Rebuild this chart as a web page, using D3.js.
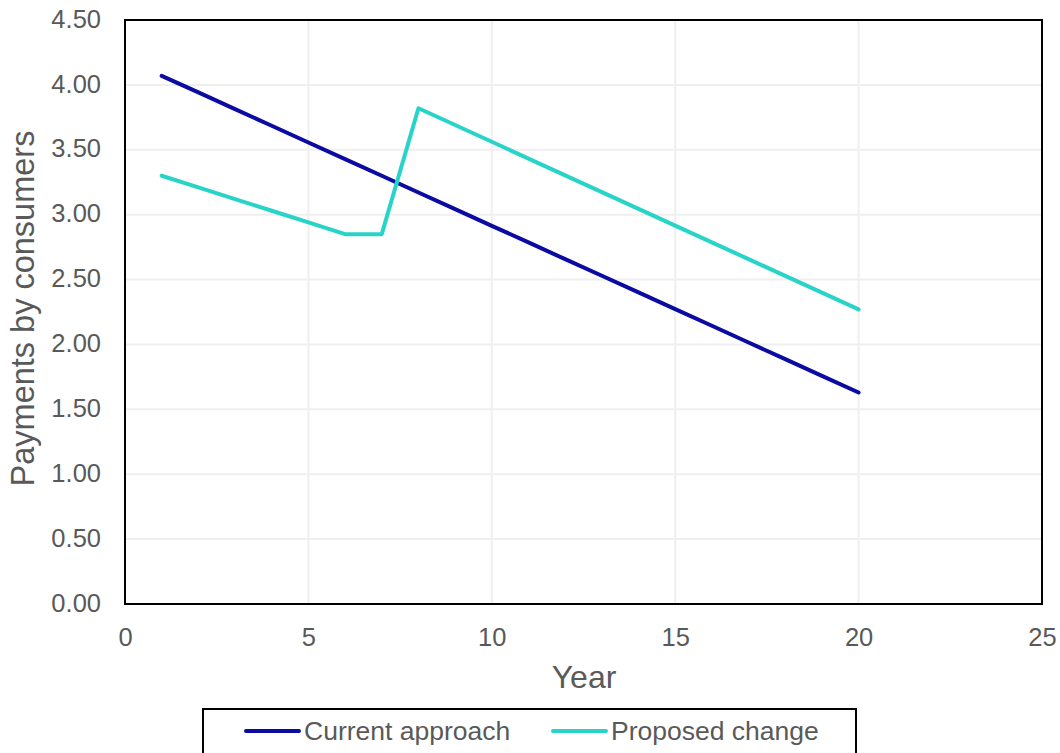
<!DOCTYPE html>
<html>
<head>
<meta charset="utf-8">
<script src="https://cdn.jsdelivr.net/npm/d3@7"></script>
<style>
  html, body { margin: 0; padding: 0; background: #fff; }
  svg { display: block; font-family: "Liberation Sans", Arial, sans-serif; }
</style>
</head>
<body>
<svg id="chart" width="1060" height="753"></svg>
<script>
const years = [1,2,3,4,5,6,7,8,9,10,11,12,13,14,15,16,17,18,19,20];
const currentApproach = [4.070,3.942,3.813,3.685,3.556,3.428,3.300,3.171,3.043,2.914,2.786,2.657,2.529,2.401,2.272,2.144,2.015,1.887,1.758,1.630];
const proposedChange = [3.300,3.210,3.120,3.030,2.940,2.850,2.850,3.820,3.691,3.562,3.432,3.303,3.174,3.045,2.916,2.787,2.657,2.528,2.399,2.270];
const xTicks = [0,5,10,15,20,25];
const yTicks = [0,0.5,1,1.5,2,2.5,3,3.5,4,4.5];
const seriesNames = ["Current approach", "Proposed change"];
const seriesColors = ["#0b0ba3", "#28d4c8"];

const svg = d3.select("#chart");
const pLeft = 125, pRight = 1042, pTop = 20, pBottom = 604;
const x = d3.scaleLinear().domain([0, 25]).range([pLeft, pRight]);
const y = d3.scaleLinear().domain([0, 4.5]).range([pBottom, pTop]);
const tickFont = 25.5;

// gridlines
svg.append("g").selectAll("line").data(xTicks.filter(t => t > 0 && t < 25)).join("line")
  .attr("x1", d => x(d)).attr("x2", d => x(d)).attr("y1", pTop).attr("y2", pBottom)
  .attr("stroke", "#efefef").attr("stroke-width", 2);
svg.append("g").selectAll("line").data(yTicks.filter(t => t > 0 && t < 4.5)).join("line")
  .attr("x1", pLeft).attr("x2", pRight).attr("y1", d => y(d)).attr("y2", d => y(d))
  .attr("stroke", "#efefef").attr("stroke-width", 2);

// axes (labels only)
const xAxis = svg.append("g").attr("transform", `translate(0,${pBottom})`)
  .call(d3.axisBottom(x).tickValues(xTicks).tickSize(0).tickPadding(24).tickFormat(d3.format("d")));
xAxis.select(".domain").remove();
xAxis.attr("font-size", tickFont).attr("font-family", "Liberation Sans, Arial, sans-serif");
xAxis.selectAll("text").attr("fill", "#595959");

const yAxis = svg.append("g").attr("transform", `translate(${pLeft},0)`)
  .call(d3.axisLeft(y).tickValues(yTicks).tickSize(0).tickPadding(24).tickFormat(d3.format(".2f")));
yAxis.select(".domain").remove();
yAxis.attr("font-size", tickFont).attr("font-family", "Liberation Sans, Arial, sans-serif");
yAxis.selectAll("text").attr("fill", "#595959").attr("dy", "0.28em");

// lines
const series = [currentApproach, proposedChange];
const line = d3.line().x((d, i) => x(years[i])).y(d => y(d));
series.forEach((vals, k) => {
  svg.append("path").datum(vals)
    .attr("fill", "none").attr("stroke", seriesColors[k]).attr("stroke-width", 4)
    .attr("stroke-linejoin", "round").attr("stroke-linecap", "round")
    .attr("d", line);
});

// plot border
svg.append("rect").attr("x", pLeft).attr("y", pTop).attr("width", pRight - pLeft).attr("height", pBottom - pTop)
  .attr("fill", "none").attr("stroke", "#000").attr("stroke-width", 2);

// axis titles
svg.append("text").attr("x", 584).attr("y", 688).attr("text-anchor", "middle")
  .attr("font-size", 32).attr("fill", "#595959").text("Year");
svg.append("text").attr("transform", `translate(34,308.5) rotate(-90)`)
  .attr("text-anchor", "middle").attr("font-size", 32.5).attr("fill", "#595959").text("Payments by consumers");

// legend
svg.append("rect").attr("x", 203).attr("y", 709).attr("width", 653).attr("height", 60)
  .attr("fill", "#fff").attr("stroke", "#000").attr("stroke-width", 2);
const legendX = [246, 553];
seriesNames.forEach((name, k) => {
  svg.append("line").attr("x1", legendX[k]).attr("x2", legendX[k] + 53).attr("y1", 731).attr("y2", 731)
    .attr("stroke", seriesColors[k]).attr("stroke-width", 4).attr("stroke-linecap", "round");
  svg.append("text").attr("x", legendX[k] + 58).attr("y", 740).attr("font-size", 26.5).attr("fill", "#595959").text(name);
});
</script>
</body>
</html>
